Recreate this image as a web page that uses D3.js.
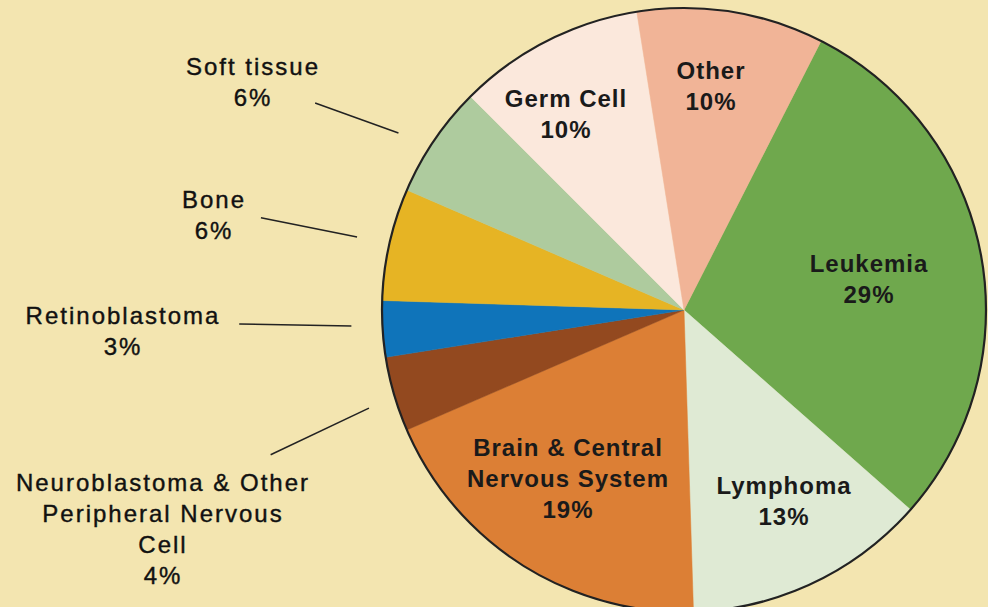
<!DOCTYPE html>
<html>
<head>
<meta charset="utf-8">
<style>
  body { margin: 0; background: #F3E5B0; }
  svg { display: block; }
  .inner { font-family: "Liberation Sans", Arial, sans-serif; font-weight: bold; font-size: 24px; letter-spacing: 1px; fill: #1a1a1a; }
  .outer { font-family: "Liberation Sans", Arial, sans-serif; font-size: 24px; letter-spacing: 2px; fill: #111; stroke: #111; stroke-width: 0.4px; }
  .leader { stroke: #222; stroke-width: 1.5px; fill: none; }
</style>
</head>
<body>
<div id="chart"></div>
<script src="https://cdn.jsdelivr.net/npm/d3@7"></script>
<script>
// data
const categories = ['Leukemia', 'Lymphoma', 'Brain & Central Nervous System',
  'Neuroblastoma & Other Peripheral Nervous Cell', 'Retinoblastoma', 'Bone',
  'Soft tissue', 'Germ Cell', 'Other'];
const percents = [29, 13, 19, 4, 3, 6, 6, 10, 10];
const colors = ['#6FA84D', '#DFEAD4', '#DC7F35', '#93491F', '#0F74BA', '#E6B424',
  '#AECB9E', '#FBE8DC', '#F1B497'];

// label text lines (last line added is the percent)
const labelLines = {
  'Leukemia': ['Leukemia'],
  'Lymphoma': ['Lymphoma'],
  'Brain & Central Nervous System': ['Brain & Central', 'Nervous System'],
  'Neuroblastoma & Other Peripheral Nervous Cell': ['Neuroblastoma & Other', 'Peripheral Nervous', 'Cell'],
  'Retinoblastoma': ['Retinoblastoma'],
  'Bone': ['Bone'],
  'Soft tissue': ['Soft tissue'],
  'Germ Cell': ['Germ Cell'],
  'Other': ['Other']
};

// label layout: x centre, first baseline, class;
// leader = [angle offset at pie end (deg), radius, angle offset at label end, radius]
const labelLayout = {
  'Leukemia': {x: 869, y: 272, cls: 'inner'},
  'Lymphoma': {x: 784, y: 494, cls: 'inner'},
  'Brain & Central Nervous System': {x: 568, y: 456, cls: 'inner'},
  'Neuroblastoma & Other Peripheral Nervous Cell': {x: 163, y: 491, cls: 'outer', leader: [-1.1, 330, -3.1, 438]},
  'Retinoblastoma': {x: 123, y: 324, cls: 'outer', leader: [0.85, 333, 1.8, 445]},
  'Bone': {x: 214, y: 208, cls: 'outer', leader: [0, 335, -0.3, 433]},
  'Soft tissue': {x: 253, y: 75, cls: 'outer', leader: [-2.4, 336, -4.9, 423]},
  'Germ Cell': {x: 566, y: 107, cls: 'inner'},
  'Other': {x: 711, y: 79, cls: 'inner'}
};

const width = 988, height = 607;
const cx = 684, cy = 310, radius = 302;
const startDeg = 27;
const rad = Math.PI / 180;

const svg = d3.select('#chart').append('svg')
  .attr('width', width)
  .attr('height', height);

svg.append('rect').attr('width', width).attr('height', height).attr('fill', '#F3E5B0');

const data = categories.map((c, i) => ({name: c, value: percents[i], color: colors[i]}));

const pie = d3.pie()
  .sort(null)
  .value(d => d.value)
  .startAngle(startDeg * rad)
  .endAngle(startDeg * rad + 2 * Math.PI);

const arc = d3.arc().innerRadius(0).outerRadius(radius);
const arcs = pie(data);

const g = svg.append('g').attr('transform', `translate(${cx},${cy})`);

g.selectAll('path.slice')
  .data(arcs)
  .enter().append('path')
    .attr('class', 'slice')
    .attr('d', arc)
    .attr('fill', d => d.data.color)
    .attr('stroke', d => d.data.color)
    .attr('stroke-width', 0.5);

// outline
g.append('circle')
  .attr('r', radius)
  .attr('fill', 'none')
  .attr('stroke', '#222')
  .attr('stroke-width', 2.2);

// leader lines for the outside labels
g.selectAll('line.leader')
  .data(arcs.filter(d => labelLayout[d.data.name].leader))
  .enter().append('line')
    .attr('class', 'leader')
    .each(function(d) {
      const mid = (d.startAngle + d.endAngle) / 2;
      const [da1, r1, da2, r2] = labelLayout[d.data.name].leader;
      const a1 = mid + da1 * rad, a2 = mid + da2 * rad;
      d3.select(this)
        .attr('x1', Math.sin(a1) * r1)
        .attr('y1', -Math.cos(a1) * r1)
        .attr('x2', Math.sin(a2) * r2)
        .attr('y2', -Math.cos(a2) * r2);
    });

// labels
const lineH = 31;
arcs.forEach(d => {
  const lay = labelLayout[d.data.name];
  const lines = labelLines[d.data.name].concat([d.data.value + '%']);
  const t = svg.append('text')
    .attr('class', lay.cls)
    .attr('text-anchor', 'middle');
  lines.forEach((s, i) => {
    t.append('tspan')
      .attr('x', lay.x)
      .attr('y', lay.y + i * lineH)
      .text(s);
  });
});
</script>
</body>
</html>
